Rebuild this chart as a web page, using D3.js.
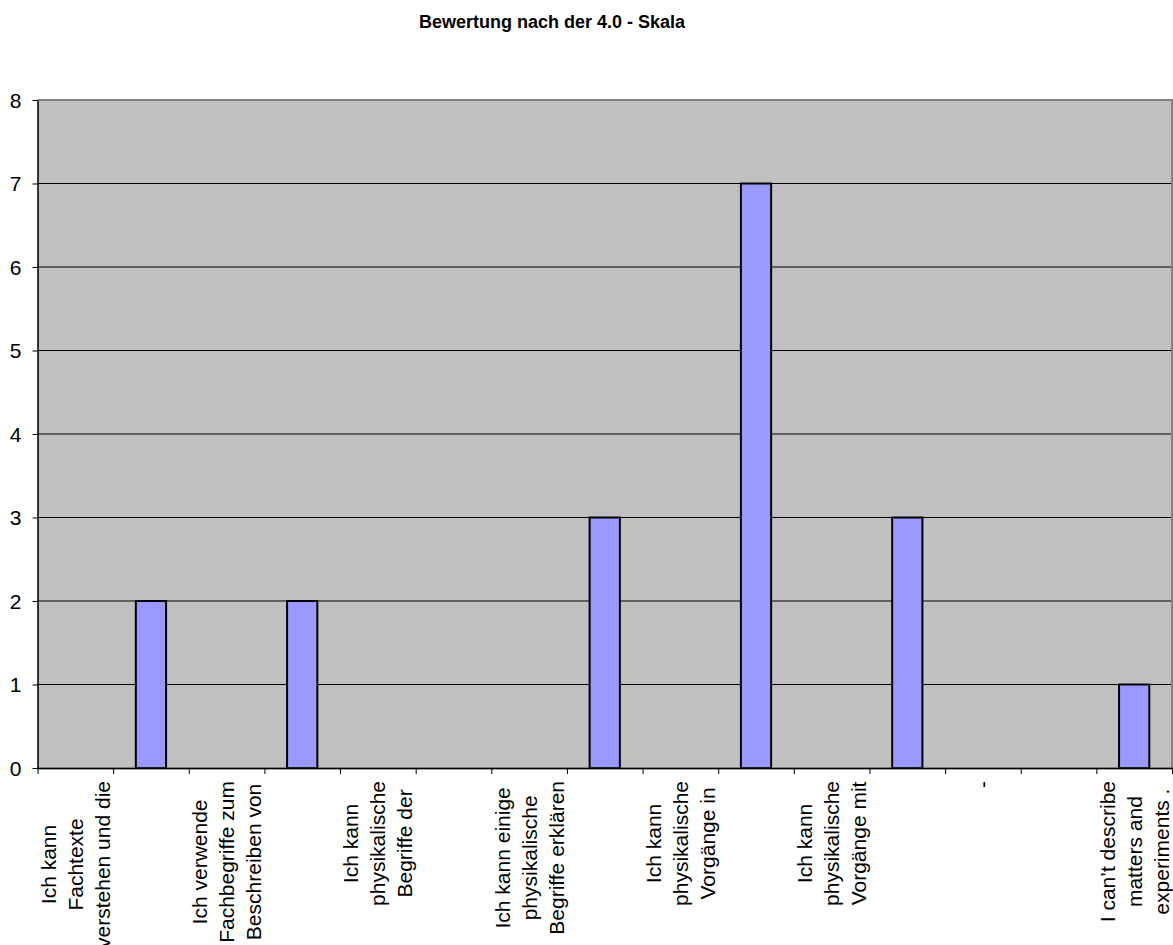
<!DOCTYPE html>
<html>
<head>
<meta charset="utf-8">
<script src="https://cdn.jsdelivr.net/npm/d3@7"></script>
<style>
  html, body { margin: 0; padding: 0; background: #ffffff; }
  svg { display: block; }
  text { font-family: "Liberation Sans", Arial, sans-serif; fill: #000; }
</style>
</head>
<body>
<script>
// Category labels (wrapped lines); only every other label is shown on the axis
const categories = [
  ["Ich kann", "Fachtexte", "verstehen und die"],
  ["Ich kann", "Fachtexte", "verstehen"],
  ["Ich verwende", "Fachbegriffe zum", "Beschreiben von"],
  ["Ich verwende", "Fachbegriffe"],
  ["Ich kann", "physikalische", "Begriffe der"],
  ["Ich kann", "physikalische", "Begriffe"],
  ["Ich kann einige", "physikalische", "Begriffe erklären"],
  ["Ich kann einige", "physikalische", "Begriffe"],
  ["Ich kann", "physikalische", "Vorgänge in"],
  ["Ich kann", "physikalische", "Vorgänge"],
  ["Ich kann", "physikalische", "Vorgänge mit"],
  ["Ich kann", "physikalische", "Vorgänge"],
  ["-"],
  ["-"],
  ["I can’t describe", "matters and", "experiments ."]
];
const values = [0, 2, 0, 2, 0, 0, 0, 3, 0, 7, 0, 3, 0, 0, 1];
const yTicks = [0, 1, 2, 3, 4, 5, 6, 7, 8];
const title = "Bewertung nach der 4.0 - Skala";

const W = 1173, H = 945;
const plot = { left: 37.5, right: 1172, top: 100, bottom: 768 };

const svg = d3.select("body").append("svg").attr("width", W).attr("height", H);

const x = d3.scaleBand()
  .domain(d3.range(categories.length))
  .range([plot.left, plot.right])
  .paddingInner(0.6)
  .paddingOuter(0.3);

const xEdge = d3.scaleLinear()
  .domain([0, categories.length])
  .range([plot.left, plot.right]);

const y = d3.scaleLinear().domain([0, 8]).range([plot.bottom, plot.top]);

// plot area background
svg.append("rect")
  .attr("x", plot.left).attr("y", plot.top)
  .attr("width", plot.right - plot.left).attr("height", plot.bottom - plot.top)
  .attr("fill", "#c0c0c0");

// horizontal gridlines
svg.append("g")
  .selectAll("line")
  .data(yTicks.filter(t => t > 0 && t < 8))
  .join("line")
  .attr("x1", plot.left).attr("x2", plot.right)
  .attr("y1", d => y(d)).attr("y2", d => y(d))
  .attr("stroke", "#000").attr("stroke-width", 1);

// plot area border (top and right)
svg.append("path")
  .attr("d", `M${plot.left},${plot.top}H${plot.right}V${plot.bottom}`)
  .attr("fill", "none").attr("stroke", "#808080").attr("stroke-width", 2);

// bars
svg.append("g")
  .selectAll("rect")
  .data(values.map((v, i) => ({ v, i })).filter(d => d.v > 0))
  .join("rect")
  .attr("x", d => x(d.i))
  .attr("y", d => y(d.v))
  .attr("width", x.bandwidth())
  .attr("height", d => y(0) - y(d.v))
  .attr("fill", "#9999ff")
  .attr("stroke", "#000")
  .attr("stroke-width", 2);

// bottom border under the x axis
svg.append("line")
  .attr("x1", plot.left).attr("x2", plot.right)
  .attr("y1", plot.bottom + 0.5).attr("y2", plot.bottom + 0.5)
  .attr("stroke", "#404040").attr("stroke-width", 2);

// y axis
const yAxis = svg.append("g")
  .attr("transform", `translate(${plot.left},0)`)
  .call(d3.axisLeft(y).tickValues(yTicks).tickSize(5).tickSizeOuter(0).tickPadding(11));
yAxis.select(".domain").attr("stroke", "#000").attr("stroke-width", 1.5);
yAxis.selectAll(".tick line").attr("stroke", "#000");
yAxis.selectAll(".tick text")
  .attr("font-size", 21)
  .attr("font-family", "'Liberation Sans', Arial, sans-serif")
  .attr("fill", "#000")
  .attr("dy", "0.35em");

// x axis tick marks at category boundaries
const xAxis = svg.append("g")
  .attr("transform", `translate(0,${plot.bottom})`)
  .call(d3.axisBottom(xEdge).tickValues(d3.range(categories.length + 1))
    .tickFormat("").tickSize(6).tickSizeOuter(0));
xAxis.select(".domain").attr("stroke", "#000").attr("stroke-width", 1);
xAxis.selectAll(".tick line").attr("stroke", "#000");

// rotated, wrapped category labels (every second category)
const labelTop = 781;
const lineGap = 27;
const labelG = svg.append("g");
categories.forEach((lines, i) => {
  if (i % 2 !== 0) return;
  const cx = x(i) + x.bandwidth() / 2;
  const g = labelG.append("g");
  const texts = lines.map(s => g.append("text")
    .attr("font-size", 21)
    .attr("text-anchor", "middle")
    .attr("dominant-baseline", "central")
    .text(s));
  const maxW = d3.max(texts, t => t.node().getComputedTextLength());
  const cy = labelTop + maxW / 2;
  const n = lines.length;
  texts.forEach((t, k) => {
    const lx = cx + (k - (n - 1) / 2) * lineGap;
    t.attr("transform", `translate(${lx},${cy}) rotate(-90)`);
  });
});

// title
svg.append("text")
  .attr("x", 552).attr("y", 28)
  .attr("text-anchor", "middle")
  .attr("font-size", 18)
  .attr("font-weight", "bold")
  .text(title);
</script>
</body>
</html>
